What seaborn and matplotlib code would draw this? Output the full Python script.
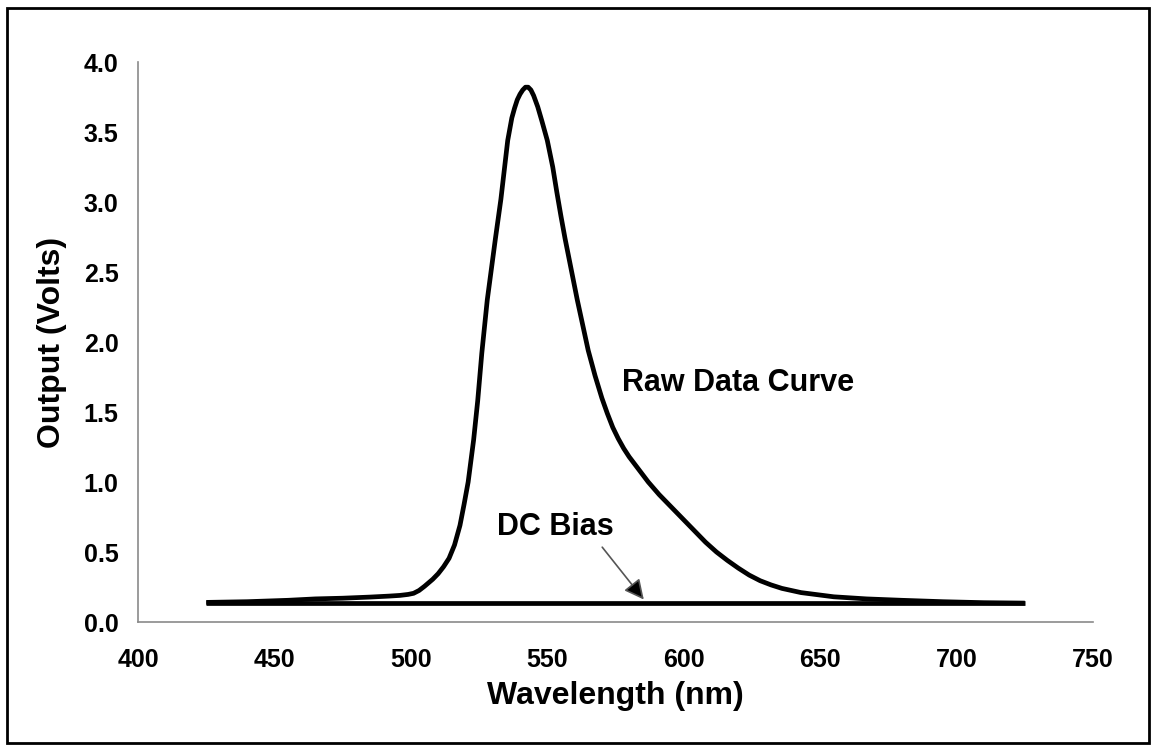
import matplotlib
matplotlib.use("Agg")
import matplotlib.pyplot as plt
import seaborn as sns
import pandas as pd
from matplotlib.patches import Rectangle

# ---- data ----
wavelength = [425, 440, 455, 465, 475, 485, 492, 496, 499, 501, 503, 505, 508,
              510, 512, 514, 516, 518, 519.5, 521, 523, 524.5, 526, 528, 531,
              533, 535.5, 537, 538, 539, 540, 541, 542, 543, 544, 545, 546.5,
              548, 550, 552, 553.5, 555, 556.5, 561, 565, 567.5, 570, 572, 574,
              576, 578, 580, 583.5, 587, 591, 595, 599.5, 604, 608, 612, 616,
              620, 624, 628, 632, 636, 643, 649, 655, 667, 680, 695, 710, 725]
raw_output = [0.14, 0.145, 0.155, 0.165, 0.17, 0.178, 0.185, 0.19, 0.197, 0.205,
              0.225, 0.255, 0.305, 0.345, 0.395, 0.455, 0.55, 0.69, 0.84, 1.00,
              1.30, 1.58, 1.92, 2.30, 2.74, 3.02, 3.44, 3.60, 3.67, 3.73, 3.77,
              3.80, 3.82, 3.82, 3.80, 3.76, 3.68, 3.58, 3.44, 3.25, 3.07, 2.90,
              2.74, 2.30, 1.94, 1.76, 1.60, 1.49, 1.39, 1.31, 1.24, 1.18, 1.09,
              1.00, 0.91, 0.83, 0.74, 0.65, 0.57, 0.50, 0.44, 0.385, 0.335,
              0.295, 0.265, 0.24, 0.21, 0.195, 0.18, 0.165, 0.155, 0.145, 0.138,
              0.135]
dc_wavelength = [425, 725]
dc_output = [0.135, 0.135]

x_ticks = [400, 450, 500, 550, 600, 650, 700, 750]
y_ticks = [0.0, 0.5, 1.0, 1.5, 2.0, 2.5, 3.0, 3.5, 4.0]

raw_df = pd.DataFrame({"Wavelength (nm)": wavelength, "Output (Volts)": raw_output})
dc_df = pd.DataFrame({"Wavelength (nm)": dc_wavelength, "Output (Volts)": dc_output})

sns.set_theme(style="white")
plt.rcParams["font.family"] = ["Liberation Sans", "DejaVu Sans"]
plt.rcParams["font.weight"] = "bold"
plt.rcParams["text.color"] = "black"
plt.rcParams["axes.labelcolor"] = "black"
plt.rcParams["xtick.labelcolor"] = "black"
plt.rcParams["ytick.labelcolor"] = "black"

fig = plt.figure(figsize=(11.51, 7.45), dpi=100)
ax = fig.add_axes([138 / 1151, 1 - 622 / 745, (1093 - 138) / 1151, (622 - 62) / 745])

sns.lineplot(data=dc_df, x="Wavelength (nm)", y="Output (Volts)", ax=ax,
             color="black", linewidth=3.4)
sns.lineplot(data=raw_df, x="Wavelength (nm)", y="Output (Volts)", ax=ax,
             color="black", linewidth=3.4)
for ln in ax.get_lines():
    ln.set_solid_joinstyle("round")
    ln.set_solid_capstyle("butt")

ax.set_xlim(400, 750)
ax.set_ylim(0, 4.0)
ax.set_xticks(x_ticks)
ax.set_yticks(y_ticks)
ax.set_yticklabels([f"{v:.1f}" for v in y_ticks])
ax.set_xticklabels([str(v) for v in x_ticks])

for s in ["top", "right"]:
    ax.spines[s].set_visible(False)
for s in ["left", "bottom"]:
    ax.spines[s].set_color("#8a8a8a")
    ax.spines[s].set_linewidth(1.2)

ax.tick_params(axis="both", which="major", direction="out", length=6, width=1.2,
               color="#8a8a8a", labelsize=18, labelcolor="black")
ax.tick_params(axis="x", pad=13)
ax.tick_params(axis="y", pad=8)
for lab in ax.get_xticklabels() + ax.get_yticklabels():
    lab.set_fontweight("bold")

ax.set_xlabel("Wavelength (nm)", fontsize=23, fontweight="bold", labelpad=6,
              color="black")
ax.set_ylabel("Output (Volts)", fontsize=23, fontweight="bold", labelpad=12,
              color="black")

ax.text(577.5, 1.71, "Raw Data Curve", fontsize=22, fontweight="bold",
        ha="left", va="center", color="black")
ax.text(531.5, 0.68, "DC Bias", fontsize=22, fontweight="bold",
        ha="left", va="center", color="black")
ax.annotate("", xy=(586, 0.145), xytext=(569.5, 0.55),
            arrowprops=dict(arrowstyle="-|>", edgecolor="#555555", lw=1.2,
                            mutation_scale=30, facecolor="black"))

fig.add_artist(Rectangle((7 / 1151, 2 / 745), (1149 - 7) / 1151, (737 - 2) / 745,
                         transform=fig.transFigure, fill=False,
                         edgecolor="black", linewidth=2))

fig.savefig("out.png", dpi=100, facecolor="white")
